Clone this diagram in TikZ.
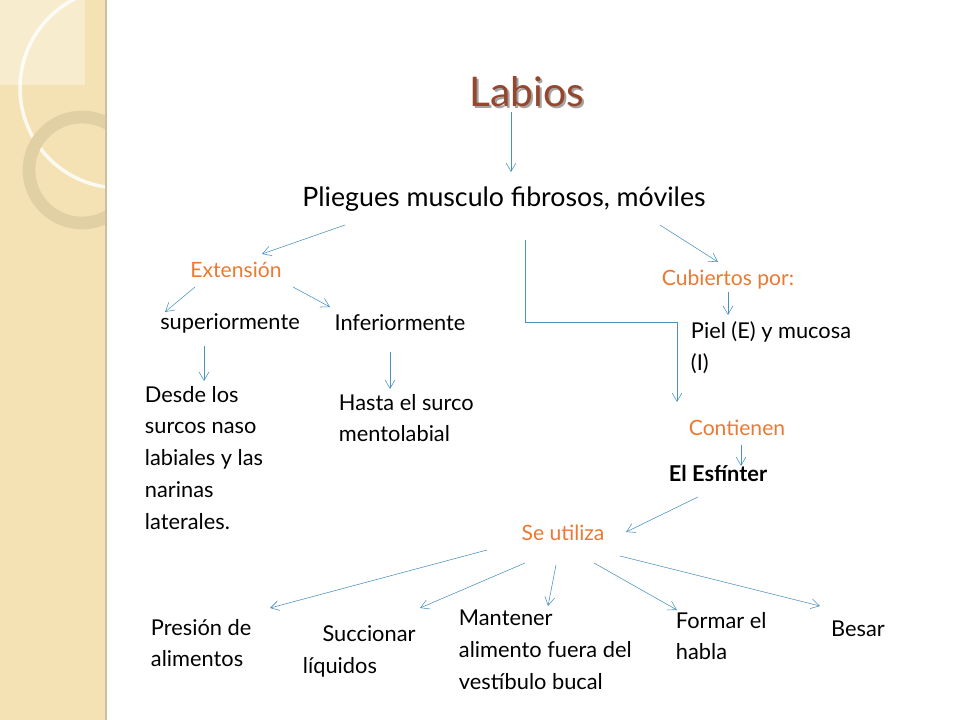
\documentclass[tikz,border=0pt]{standalone}
\usepackage{fontspec}
\setmainfont{Lato}
\usetikzlibrary{arrows.meta}
\definecolor{strip}{RGB}{244,226,180}
\definecolor{stripline}{RGB}{205,190,160}
\definecolor{ring}{RGB}{226,208,165}
\definecolor{flecha}{RGB}{75,145,190}
\definecolor{naranja}{RGB}{236,120,50}
\definecolor{titulo}{RGB}{150,70,45}
\tikzset{
  txt/.style={font=\fontsize{15.5}{22.7}\selectfont, align=left},
  nar/.style={font=\fontsize{15}{18}\selectfont, text=naranja},
  fl/.style={draw=flecha, -{Straight Barb[length=6pt,width=7pt]}, thin}
}
\begin{document}
\begin{tikzpicture}[x=0.025cm, y=-0.025cm]
            \useasboundingbox (0,0) rectangle (960,720);
            % Decorated strip
            \fill[strip] (0,0) rectangle (106,720);
            \begin{scope}
              \clip (0,0) rectangle (106,720);
              \fill[white, opacity=0.35] (0,0) rectangle (85,85);
              \draw[white, line width=2.5pt, opacity=0.8] (120,88) circle (100);
              \draw[ring, line width=9pt] (82,170) circle (53);
            \end{scope}
            \draw[stripline, line width=1.5pt] (106,0) -- (106,720);

            % Title and first level
            \node[font=\fontsize{29}{33}\selectfont, text=black!60, opacity=0.6] at (529,94) {Labios};
            \node[font=\fontsize{29}{33}\selectfont, text=titulo] (labios) at (527,92) {Labios};
            \node[font=\fontsize{19}{23}\selectfont] (pliegues) at (504,199) {Pliegues musculo fibrosos, móviles};

            % Orange headers
            \node[nar] (extension) at (236,270) {Extensión};
            \node[nar] (cubiertos) at (728,280) {Cubiertos por:};
            \node[nar] (contienen) at (737,428) {Contienen};
            \node[nar] (utiliza) at (563,533) {Se utiliza};

            % Extension branch
            \node[txt] (superior) at (230,323) {superiormente};
            \node[txt] (inferior) at (400,323) {Inferiormente};
            \node[txt, anchor=north west] (desde) at (140,381) {Desde los\\surcos naso\\labiales y las\\narinas\\laterales.};
            \node[txt, anchor=north west] (hasta) at (334,389) {Hasta el surco\\mentolabial};

            % Right branch
            \node[txt, anchor=north west] (piel) at (686,317) {Piel (E) y mucosa\\(I)};
            \node[font=\fontsize{15.5}{19}\selectfont\bfseries] (esfinter) at (718,473) {El Esfínter};

            % Uses
            \node[txt, anchor=north west] (presion) at (146,614) {Presión de\\alimentos};
            \node[txt, anchor=north west] (succionar) at (298,621) {\hspace*{0.9em}Succionar\\líquidos};
            \node[txt, anchor=north west] (mantener) at (454,605) {Mantener\\alimento fuera del\\vestíbulo bucal};
            \node[txt, anchor=north west] (formar) at (671,607) {Formar el\\habla};
            \node[txt] (besar) at (858,629) {Besar};

            % Arrows
            \draw[fl] (511,112) -- (511,172);
            \draw[fl] (345,225) -- (262,254);
            \draw[fl] (660,225) -- (718,262);
            \draw[fl] (525,240) -- (525,322) -- (677,322) -- (677,402);
            \draw[fl] (728,292) -- (728,315);
            \draw[fl] (195,287) -- (165,312);
            \draw[fl] (293,287) -- (330,307);
            \draw[fl] (204,346) -- (204,381);
            \draw[fl] (390,352) -- (390,389);
            \draw[fl] (741,445) -- (741,466);
            \draw[fl] (698,497) -- (626,532);
            \draw[fl] (487,550) -- (270,608);
            \draw[fl] (525,563) -- (420,608);
            \draw[fl] (556,565) -- (548,606);
            \draw[fl] (594,563) -- (677,610);
            \draw[fl] (620,556) -- (820,606);
\end{tikzpicture}
\end{document}
